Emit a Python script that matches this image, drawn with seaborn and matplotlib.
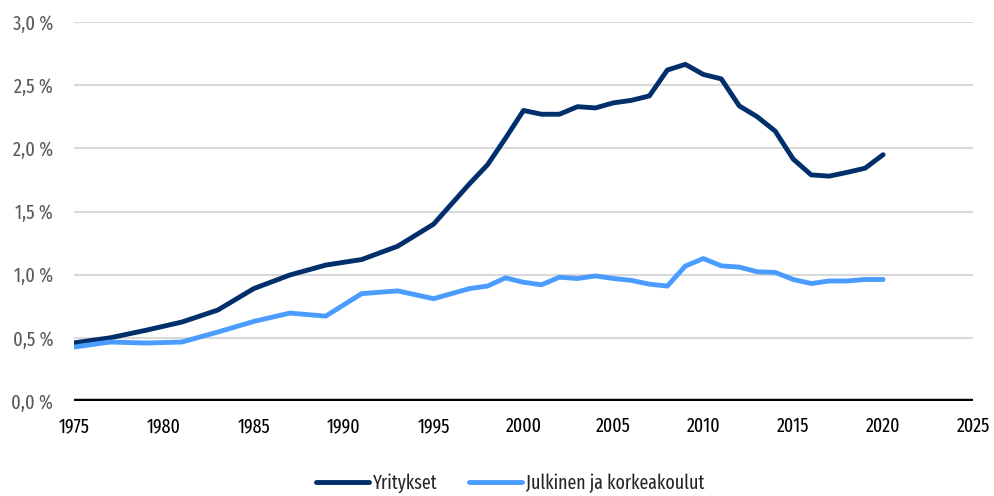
import pandas as pd
import numpy as np
import matplotlib.pyplot as plt
import seaborn as sns
from matplotlib.ticker import FuncFormatter

sns.set_theme(style="white")
plt.rcParams['font.family'] = ['Fira Sans Extra Condensed', 'DejaVu Sans']

# data: T&K-menot suhteessa BKT:hen (%)
years = [1975, 1977, 1979, 1981, 1983, 1985, 1987, 1989, 1991, 1993, 1995,
         1997, 1998, 1999, 2000, 2001, 2002, 2003, 2004, 2005, 2006, 2007,
         2008, 2009, 2010, 2011, 2012, 2013, 2014, 2015, 2016, 2017, 2018,
         2019, 2020]
yritykset = [0.46, 0.50, 0.56, 0.625, 0.72, 0.89, 0.997, 1.076, 1.12, 1.225, 1.40,
             1.72, 1.87, 2.08, 2.30, 2.27, 2.27, 2.33, 2.32, 2.36, 2.38, 2.415,
             2.62, 2.665, 2.585, 2.55, 2.336, 2.25, 2.136, 1.915, 1.79, 1.78, 1.81,
             1.843, 1.95]
julkinen = [0.427, 0.467, 0.459, 0.467, 0.546, 0.63, 0.696, 0.672, 0.85, 0.872, 0.81,
            0.89, 0.91, 0.975, 0.94, 0.92, 0.98, 0.97, 0.99, 0.97, 0.955, 0.925,
            0.91, 1.068, 1.128, 1.07, 1.06, 1.023, 1.018, 0.962, 0.93, 0.95, 0.95,
            0.962, 0.962]
sarjat = ['Yritykset', 'Julkinen ja korkeakoulut']
varit = ['#002f6c', '#4a9dff']

df = pd.DataFrame({'Vuosi': years, sarjat[0]: yritykset, sarjat[1]: julkinen})
df_long = df.melt(id_vars='Vuosi', var_name='Sektori', value_name='Osuus')

fig = plt.figure(figsize=(9.94, 4.96), dpi=100)
ax = fig.add_axes([0.0744, 0.1915, 0.9045, 0.7641])

for y in np.arange(0.5, 3.01, 0.5):
    ax.axhline(y, color='#d9d9d9', linewidth=1.5, zorder=0)
ax.axhline(0, color='black', linewidth=3.2, zorder=1)

sns.lineplot(data=df_long, x='Vuosi', y='Osuus', hue='Sektori', hue_order=sarjat,
             palette=varit, linewidth=3.5, ax=ax, zorder=3)

ax.set_xlim(1975, 2025)
ax.set_ylim(0, 3.0)
ax.set_xticks(range(1975, 2026, 5))
ax.set_yticks(np.arange(0, 3.01, 0.5))
ax.yaxis.set_major_formatter(FuncFormatter(lambda v, p: f'{v:.1f} %'.replace('.', ',')))
ax.tick_params(axis='y', length=0, pad=15, labelsize=14.5, labelcolor='#595959')
ax.tick_params(axis='x', length=0, pad=11, labelsize=14, labelcolor='black')
ax.set_xlabel('')
ax.set_ylabel('')
for s in ax.spines.values():
    s.set_visible(False)

ax.legend(loc='center', bbox_to_anchor=(0.485, -0.216), ncol=2, frameon=False,
          fontsize=14, handlelength=2.75, columnspacing=1.6, handletextpad=0.2)

plt.savefig('out.png', dpi=100)
